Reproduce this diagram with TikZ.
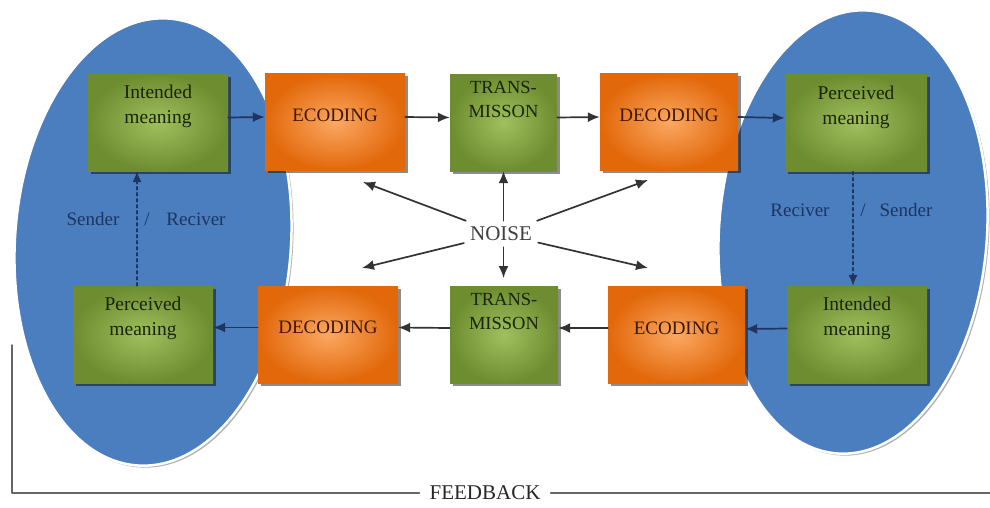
\documentclass[tikz,border=0pt]{standalone}
\usepackage{fontspec}
\setmainfont{Liberation Serif}
\usetikzlibrary{shadows,arrows.meta}
\definecolor{ovalblue}{HTML}{4A7EBF}
\definecolor{greenedge}{HTML}{6E8D30}
\definecolor{greenmid}{HTML}{A0BF5E}
\definecolor{orangeedge}{HTML}{E2680A}
\definecolor{orangemid}{HTML}{FBA862}
\definecolor{greentext}{HTML}{1A240A}
\definecolor{orangetext}{HTML}{3E1804}
\definecolor{navy}{HTML}{1F3460}
\begin{document}
\begin{tikzpicture}[x=1pt,y=-1pt,line cap=round,line join=round,
  boxshadow/.style={drop shadow={shadow xshift=2.5pt,shadow yshift=-2.5pt,fill=black,opacity=0.45}},
  greenbox/.style={rectangle,minimum width=140pt,minimum height=97pt,inner color=greenmid,outer color=greenedge,
    boxshadow,align=center,text=greentext,font=\fontsize{19.5}{25}\selectfont,text depth=36pt},
  transbox/.style={greenbox,minimum width=107pt,font=\fontsize{18.5}{24}\selectfont,text depth=47pt},
  orangebox/.style={rectangle,minimum width=140pt,minimum height=97pt,inner color=orangemid,outer color=orangeedge,
    boxshadow,text=orangetext,font=\fontsize{19}{22}\selectfont,text depth=14pt},
  oval/.style={fill=ovalblue,draw=white,line width=2.5pt,drop shadow={shadow xshift=2pt,shadow yshift=-2pt,fill=gray,opacity=0.6}},
  flow/.style={-{Latex[length=12pt,width=10pt]},line width=1.7pt,draw=black!80},
  roleflow/.style={flow,draw=navy},
  dashflow/.style={-{Latex[length=11pt,width=9pt]},line width=1.4pt,draw=navy,dash pattern=on 3pt off 3pt},
  role/.style={text=navy,font=\fontsize{19}{22}\selectfont},
  fbline/.style={line width=1.4pt,draw=black!60}]
  \useasboundingbox (0,0) rectangle (990,507);
  \fill[white] (0,0) rectangle (990,507);

  \draw[oval,rotate around={-4:(153,242)}] (153,242) ellipse [x radius=138pt,y radius=224pt];
  \draw[oval,rotate around={-4:(853,232)}] (853,232) ellipse [x radius=134pt,y radius=222pt];

  \node[greenbox] (IM1) at (158,122.5) {Intended\\meaning};
  \node[orangebox] (EC1) at (335,122) {ECODING};
  \node[transbox] (TR1) at (503.5,122.5) {TRANS-\\MISSON};
  \node[orangebox,minimum width=138pt] (DE1) at (669,122) {DECODING};
  \node[greenbox,minimum width=142pt] (PM1) at (856,123) {Perceived\\meaning};

  \node[greenbox] (PM2) at (143,334.5) {Perceived\\meaning};
  \node[orangebox] (DE2) at (328,334.5) {DECODING};
  \node[transbox,minimum width=108pt] (TR2) at (504,335) {TRANS-\\MISSON};
  \node[orangebox,minimum width=137pt] (EC2) at (676.5,335) {ECODING};
  \node[greenbox] (IM2) at (857,334.5) {Intended\\meaning};

  \node[font=\fontsize{21}{24}\selectfont,text=black!75,inner sep=6pt] (N) at (501,234) {NOISE};
  \coordinate (N1) at (363,182);
  \coordinate (N2) at (648,180);
  \coordinate (N3) at (362,268);
  \coordinate (N4) at (503.5,278);
  \coordinate (N5) at (648,268);

  \draw[roleflow] ([yshift=5]IM1.east) -- ([yshift=5]EC1.west);
  \draw[flow] ([yshift=5]EC1.east) -- ([yshift=5]TR1.west);
  \draw[flow] ([yshift=5]TR1.east) -- ([yshift=5]DE1.west);
  \draw[roleflow] ([yshift=5]DE1.east) -- ([yshift=5]PM1.west);

  \draw[roleflow] ([yshift=6]IM2.west) -- ([yshift=6]EC2.east);
  \draw[flow] ([yshift=7]EC2.west) -- ([yshift=7]TR2.east);
  \draw[flow] ([yshift=7]TR2.west) -- ([yshift=7]DE2.east);
  \draw[roleflow] ([yshift=7]DE2.west) -- ([yshift=7]PM2.east);

  \draw[flow] (N) -- (N1);
  \draw[flow] (N.north -| TR1.south) -- (TR1.south);
  \draw[flow] (N) -- (N2);
  \draw[flow] (N) -- (N3);
  \draw[flow] (N.south -| N4) -- (N4);
  \draw[flow] (N) -- (N5);

  \draw[dashflow] ([xshift=-6]PM2.north) -- ([xshift=-6]PM2.north |- IM1.south);
  \draw[dashflow] ([xshift=-3]PM1.south) -- ([xshift=-3]PM1.south |- IM2.north);

  \node[role] (S1) at (93,219) {Sender};
  \node[role] (SL1) at (147,219) {/};
  \node[role] (R1) at (196,219) {Reciver};
  \node[role] (R2) at (800,210) {Reciver};
  \node[role] (SL2) at (863,210) {/};
  \node[role] (S2) at (906,210) {Sender};

  \coordinate (FB1) at (12,345);
  \coordinate (FB2) at (990,493);
  \node[font=\fontsize{21}{24}\selectfont,text=black!85,inner xsep=10pt] (FB) at (485,493) {FEEDBACK};
  \draw[fbline] (FB1) |- (FB.west);
  \draw[fbline] (FB.east) -- (FB2);
\end{tikzpicture}
\end{document}
